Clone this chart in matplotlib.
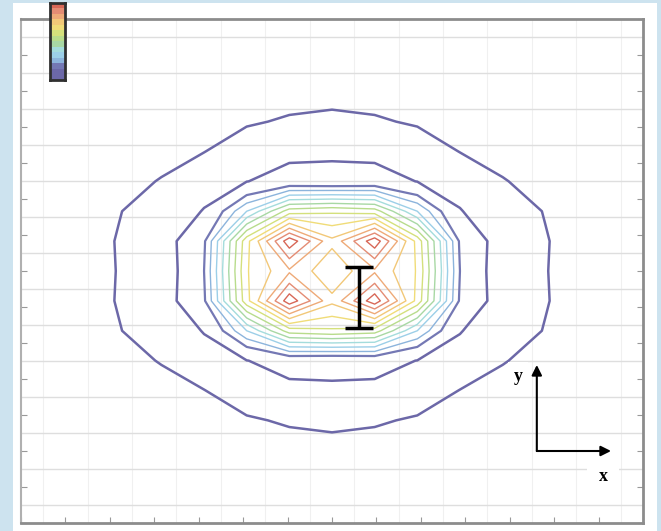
import matplotlib.pyplot as plt
import numpy as np
from matplotlib.patches import Rectangle
from matplotlib.colors import ListedColormap

# grid node positions (axis units, ticks every 1)
grid_x = [0.28, 1.24, 2.2, 3.16, 4.12, 5.08, 6.04, 7.0, 7.96, 8.92, 9.88, 10.84, 11.8, 12.76, 13.72]
grid_y = [1.19, 2.02, 2.85, 3.68, 4.51, 5.34, 6.17, 7.0, 7.83, 8.66, 9.49, 10.32, 11.15, 11.98, 12.81]

# quarter of the field (rows: steps up from centre, cols: steps right)
field_q = [
    [7.35, 8.3, 7.15, 3.0, 1.38, 1.03, 0.6, 0.3],
    [7.95, 10.0, 7.0, 2.9, 1.5, 1.04, 0.65, 0.3],
    [6.5, 6.3, 4.2, 2.05, 1.35, 0.97, 0.5, 0.25],
    [2.33, 2.4, 1.98, 1.6, 1.05, 0.7, 0.4, 0.2],
    [1.84, 1.75, 1.5, 0.98, 0.7, 0.55, 0.3, 0.15],
    [1.2, 1.1, 0.9, 0.7, 0.5, 0.35, 0.2, 0.1],
    [0.7, 0.65, 0.5, 0.4, 0.3, 0.2, 0.1, 0.05],
    [0.4, 0.35, 0.3, 0.2, 0.15, 0.1, 0.05, 0.0],
]

levels = [1.0, 2.0, 3.0, 3.6, 4.2, 4.8, 5.4, 6.0, 6.6, 7.2, 7.8, 8.4, 9.0, 9.6]
level_colors = ['#6c68a8', '#6c68a8', '#7478b4', '#8cb4dc', '#9ccfe8', '#a4dcdc',
                '#a8d8a4', '#b8dc8c', '#d4e07c', '#f0dc78', '#f2c878', '#eeaa78',
                '#e48c74', '#d86858']
level_widths = [1.8, 1.8, 1.6, 1.0, 1.0, 1.0, 1.0, 1.0, 1.0, 1.0, 1.0, 1.0, 1.0, 1.0]

# I-bar marker
ibar_x = 7.61
ibar_lo = 5.42
ibar_hi = 7.11

# axis arrows
origin = (11.61, 2.0)
y_tip = (11.61, 4.39)
x_tip = (13.28, 2.0)

fq = np.array(field_q)
idx = [7, 6, 5, 4, 3, 2, 1, 0, 1, 2, 3, 4, 5, 6, 7]
Z = fq[np.ix_(idx, idx)]

fig = plt.figure(figsize=(6.61, 5.31), dpi=100)
fig.patch.set_facecolor('#cde3ef')
fig.patches.append(Rectangle((13 / 661, 0), 644 / 661, 1 - 3 / 531,
                             transform=fig.transFigure, facecolor='white',
                             edgecolor='none', zorder=-10))

ax = fig.add_axes([21 / 661, 8 / 531, 622 / 661, 504 / 531])
ax.set_facecolor('white')
ax.set_xlim(0, 14)
ax.set_ylim(0, 14)
ax.set_xticks(np.arange(0, 15, 1))
ax.set_yticks(np.arange(0, 15, 1))
ax.set_xticks(np.arange(0.5, 14, 1), minor=True)
ax.set_yticks(np.arange(0.5, 14, 1), minor=True)
ax.set_xticklabels([])
ax.set_yticklabels([])
ax.tick_params(which='major', direction='in', length=4, color='#999999',
               right=True, left=True, bottom=True, top=False)
ax.tick_params(which='minor', length=0)
ax.grid(which='minor', axis='y', color='#dedede', lw=1.0)
ax.grid(which='minor', axis='x', color='#f0f0f0', lw=0.8)
for side in ['top', 'right', 'bottom']:
    ax.spines[side].set_color('#8c8c8c')
    ax.spines[side].set_linewidth(2)
ax.spines['left'].set_color('#b0b0b0')
ax.spines['left'].set_linewidth(1.5)

ax.contour(grid_x, grid_y, Z, levels=levels, colors=level_colors,
           linewidths=level_widths)

ax.errorbar([ibar_x], [(ibar_lo + ibar_hi) / 2], yerr=[(ibar_hi - ibar_lo) / 2],
            fmt='none', ecolor='black', elinewidth=2.5, capsize=10, capthick=2.5)

ax.annotate('', xy=y_tip, xytext=origin,
            arrowprops=dict(arrowstyle='-|>', color='black', lw=1.5, mutation_scale=15,
                            shrinkA=0, shrinkB=0))
ax.annotate('', xy=x_tip, xytext=origin,
            arrowprops=dict(arrowstyle='-|>', color='black', lw=1.5, mutation_scale=15,
                            shrinkA=0, shrinkB=0))
ax.text(11.19, 4.08, 'y', fontsize=13, fontweight='bold', family='Liberation Serif',
        ha='center', va='center',
        bbox=dict(facecolor='white', edgecolor='none', pad=4))
ax.text(13.1, 1.28, 'x', fontsize=13, fontweight='bold', family='Liberation Serif',
        ha='center', va='center',
        bbox=dict(facecolor='white', edgecolor='none', pad=8))

# small colour key at top left
cax = fig.add_axes([50 / 661, 1 - 80 / 531, 15 / 661, 77 / 531])
cax.imshow(np.arange(len(levels))[::-1].reshape(-1, 1), cmap=ListedColormap(level_colors),
           aspect='auto', interpolation='nearest')
cax.set_xticks([])
cax.set_yticks([])
for s in cax.spines.values():
    s.set_color('#303030')
    s.set_linewidth(2)

fig.savefig('out.png', dpi=100, facecolor=fig.get_facecolor())
